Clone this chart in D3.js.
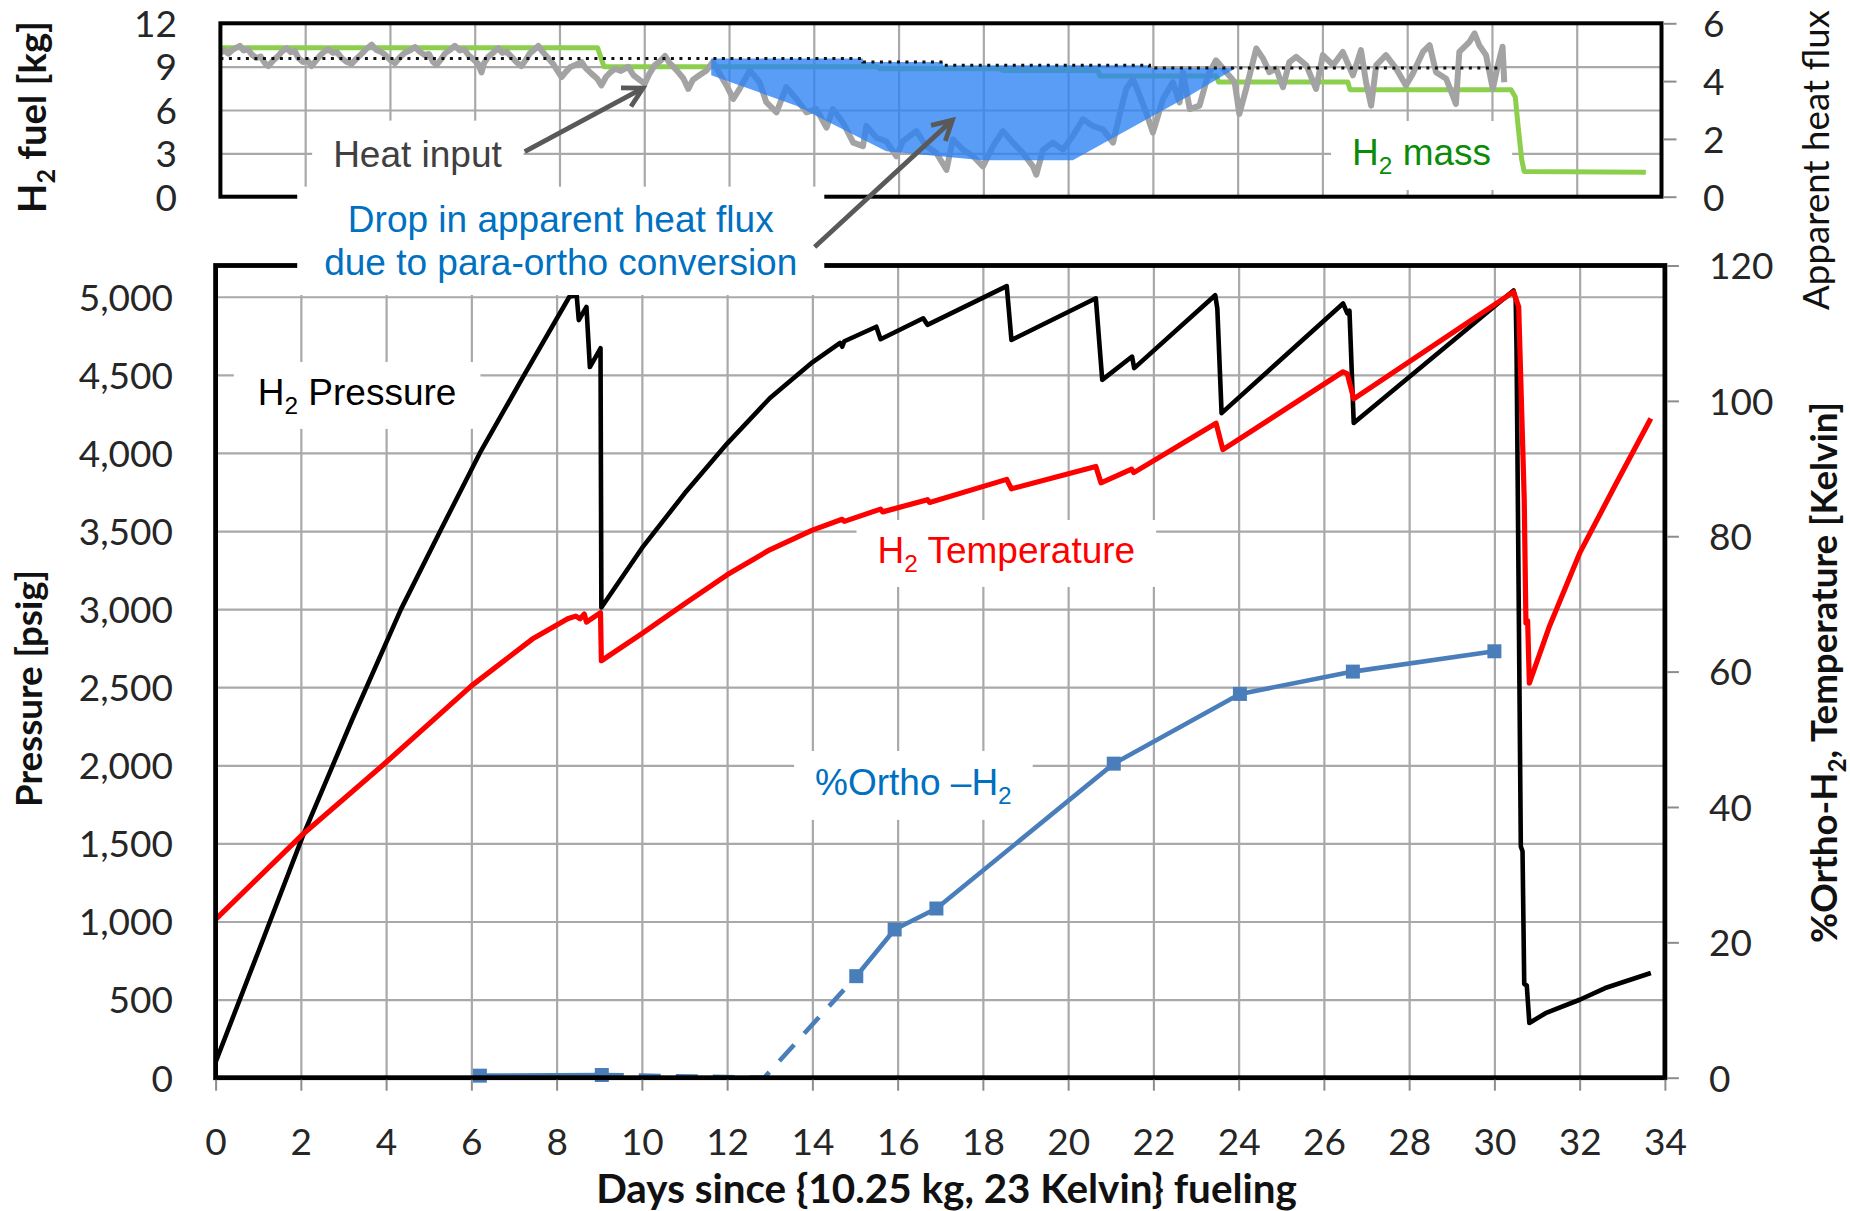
<!DOCTYPE html>
<html><head><meta charset="utf-8">
<script src="https://cdn.jsdelivr.net/npm/d3@7"></script>
<style>
html,body{margin:0;padding:0;background:#fff;}
svg{display:block;}
</style></head>
<body>
<script>
// ================= DATA =================
const dayTicks = [0,2,4,6,8,10,12,14,16,18,20,22,24,26,28,30,32,34];
const pressureTicks = [0,500,1000,1500,2000,2500,3000,3500,4000,4500,5000];
const kelvinTicks = [0,20,40,60,80,100,120];
const fuelTicks = [0,3,6,9,12];
const fluxTicks = [0,2,4,6];

// H2 pressure [psig] (left axis, main panel)
const pressureDays = [0,1,2.05,3.2,4.35,5.27,6.2,7.2,8.3,8.47,8.52,8.7,8.78,9.03,9.05,10,11,12,13,14,14.65,14.7,14.75,15.5,15.6,16.6,16.7,18.56,18.67,20.65,20.8,21.5,21.55,23.45,23.5,23.6,26.45,26.55,26.6,26.7,30.45,30.5,30.52,30.62,30.66,30.7,30.76,30.82,31.2,32.0,32.6,33.67];
const pressurePsig = [100,805,1550,2290,3000,3500,4000,4480,5000,5010,4850,4935,4550,4670,3010,3390,3740,4060,4350,4580,4705,4680,4715,4808,4728,4862,4820,5068,4723,4990,4468,4617,4543,5010,4925,4255,4957,4894,4910,4192,5040,4980,4660,1480,1450,600,590,350,413,499,574,670];

// H2 temperature [K] (right axis, main panel)
const tempDays = [0,2,4,6,7.43,8.26,8.45,8.55,8.65,8.7,9.03,9.05,10,11,12,13,14,14.7,14.75,15.6,15.65,16.7,16.75,18.56,18.67,20.65,20.77,21.49,21.54,23.47,23.63,26.45,26.55,26.7,30.45,30.57,30.7,30.74,30.78,30.82,31.28,32.0,32.84,33.67];
const tempK = [23.4,35.7,46.6,57.9,64.8,67.8,68.2,67.8,68.5,67.3,68.7,61.6,65.6,70.0,74.3,78.0,80.9,82.5,82.2,84.0,83.6,85.4,85.0,88.4,87.0,90.3,87.9,89.9,89.4,96.7,92.8,104.3,104.0,100.3,116.1,113.9,85.4,67.2,67.5,58.3,66.5,77.5,87.6,97.4];

// %Ortho-H2 samples (right axis, main panel)
const orthoDays = [6.2,9.06,15.03,15.93,16.91,21.07,24.03,26.68,30.0];
const orthoPct  = [0.3,0.4,15.0,21.9,25.0,46.4,56.7,60.0,63.0];
// dashed (estimated) part of the ortho curve
const orthoDashDays = [9.06,12.87,15.03];
const orthoDashPct  = [0.4,0.0,15.0];

// H2 mass [kg] (left axis, top panel)
const massDays = [0,8.9,9.05,15.5,15.55,18.4,18.45,20.7,20.75,23.5,23.55,26.6,26.65,30.45,30.55,30.62,30.7,30.76,33.63];
const massKg   = [10.3,10.3,9.0,9.0,8.86,8.86,8.74,8.74,8.35,8.35,7.93,7.93,7.41,7.41,6.9,4.8,2.6,1.75,1.70];

// Apparent heat flux (right axis, top panel)
const heatDays = [0.00,0.10,0.19,0.30,0.46,0.55,0.65,0.74,0.85,0.95,1.05,1.13,1.25,1.37,1.45,1.56,1.66,1.75,1.84,1.95,2.05,2.15,2.25,2.35,2.45,2.55,2.65,2.75,2.86,2.98,3.10,3.20,3.33,3.45,3.57,3.68,3.78,3.88,4.00,4.12,4.22,4.35,4.47,4.59,4.70,4.82,4.92,5.02,5.10,5.20,5.30,5.42,5.53,5.65,5.75,5.85,5.98,6.08,6.16,6.22,6.32,6.45,6.55,6.65,6.75,6.87,6.98,7.10,7.20,7.30,7.40,7.50,7.60,7.73,7.85,7.95,8.05,8.15,8.25,8.36,8.52,8.62,8.76,8.88,8.99,9.10,9.20,9.31,9.45,9.62,9.75,9.88,10.01,10.12,10.25,10.38,10.49,10.60,10.70,10.80,10.92,11.04,11.15,11.30,11.47,11.62,11.78,11.94,12.10,12.25,12.49,12.72,12.88,13.12,13.35,13.59,13.83,14.06,14.30,14.45,14.69,14.93,15.16,15.24,15.48,15.71,15.95,16.10,16.42,16.65,16.89,17.13,17.28,17.52,17.76,17.99,18.23,18.46,18.70,18.93,19.17,19.25,19.41,19.64,19.88,20.11,20.35,20.58,20.82,21.06,21.21,21.37,21.53,21.69,21.84,22.00,22.24,22.47,22.63,22.71,22.87,23.10,23.30,23.49,23.73,23.93,24.04,24.20,24.44,24.60,24.75,24.91,25.07,25.22,25.38,25.62,25.85,26.01,26.25,26.48,26.72,26.91,27.03,27.15,27.27,27.50,27.74,27.97,28.13,28.37,28.53,28.68,28.92,29.15,29.23,29.47,29.59,29.70,29.86,30.02,30.14,30.25,30.29];
const heatFlux = [4.99,5.06,4.95,5.10,5.22,5.06,5.10,4.92,4.80,4.85,4.62,4.52,4.72,4.88,5.02,5.14,5.00,5.05,4.80,4.66,4.72,4.52,4.70,4.88,5.02,5.10,4.98,5.00,4.80,4.66,4.60,4.76,4.94,5.12,5.26,5.08,5.02,4.92,4.74,4.62,4.80,4.98,5.06,5.18,5.02,4.90,4.94,4.66,4.56,4.74,4.96,5.08,5.22,5.06,5.10,4.90,4.74,4.60,4.30,4.62,4.84,5.00,5.14,4.98,5.02,4.84,4.66,4.52,4.72,4.96,5.08,5.22,5.02,4.80,4.60,4.36,4.14,4.32,4.48,4.55,4.66,4.45,4.25,4.10,3.85,4.15,4.30,4.43,4.35,4.49,4.20,4.05,3.91,4.25,4.55,4.70,4.87,4.62,4.48,4.31,4.10,3.73,4.05,4.20,4.37,4.66,4.25,3.85,3.38,3.73,4.37,3.96,3.27,2.92,3.79,3.38,2.92,3.03,2.39,3.03,2.56,1.87,1.75,2.45,2.04,1.92,1.40,1.92,2.27,1.75,1.52,0.93,1.98,1.63,1.40,1.05,1.75,2.27,1.87,1.52,1.05,0.76,1.63,1.87,1.63,2.10,2.68,2.45,2.33,1.87,2.80,3.73,4.08,3.50,2.92,2.22,3.38,3.96,3.26,4.31,3.03,3.15,4.20,4.72,4.31,3.96,2.86,3.73,5.13,4.78,4.31,4.43,3.79,4.66,4.84,4.55,3.73,4.90,4.55,5.01,4.20,5.07,3.96,3.15,4.55,4.90,4.43,3.85,4.25,5.01,5.24,4.31,4.08,3.21,5.01,5.36,5.65,5.24,4.90,3.73,4.55,5.19,3.96];

// Average heat-input level (dotted)
const avgDays = [0,15.16,15.16,17.05,17.05,21.92,21.92,30.25];
const avgFlux = [4.78,4.78,4.66,4.66,4.55,4.55,4.45,4.45];

// Drop in apparent heat flux region (blue area)
const dropTopDays = [11.58,15.16,15.16,17.05,17.05,21.92,21.92,23.93];
const dropTopFlux = [4.78,4.78,4.66,4.66,4.55,4.55,4.45,4.45];
const dropBottomDays = [11.58,13.59,15.71,17.99,20.11,22.87,23.93];
const dropBottomFlux = [4.20,3.15,1.57,1.26,1.26,3.50,4.43];

// ================= LAYOUT =================
const W = 1850, H = 1211;
const M = {left:215.6, right:1664.9, top:265.5, bottom:1077.7};
const T = {left:220.4, right:1661.5, top:23.3, bottom:196.7};

const x   = d3.scaleLinear().domain([0,34]).range([M.left, M.right]);
const yP  = d3.scaleLinear().domain([0,5200]).range([M.bottom, M.top]);
const yK  = d3.scaleLinear().domain([0,120]).range([M.bottom, M.top]);
const xt  = d3.scaleLinear().domain([0,34]).range([T.left, T.right]);
const yKg = d3.scaleLinear().domain([0,12]).range([T.bottom, T.top]);
const yF  = d3.scaleLinear().domain([0,6]).range([T.bottom, T.top]);

const GRID = '#a9a9a9';
const TICKFONT = 'Lato, "Open Sans", sans-serif';
const ANNFONT = '"Liberation Sans", Arial, sans-serif';
const TICKSIZE = 37;
const LABELCOL = '#262626';

const svg = d3.select('body').append('svg').attr('width', W).attr('height', H)
  .style('background', '#fff');
svg.append('rect').attr('width', W).attr('height', H).attr('fill', '#fff');

const zip = (a, b) => a.map((d, i) => [d, b[i]]);

function styleGrid(g) {
  g.select('.domain').remove();
  g.selectAll('.tick line').attr('stroke', GRID).attr('stroke-width', 2.2);
  g.selectAll('.tick text').remove();
}

// ---------------- MAIN PANEL ----------------
const mainG = svg.append('g');
mainG.append('g').attr('transform', `translate(0,${M.top})`)
  .call(d3.axisBottom(x).tickValues(dayTicks.filter(d => d > 0 && d < 34)).tickSize(M.bottom - M.top))
  .call(styleGrid);
mainG.append('g').attr('transform', `translate(${M.left},0)`)
  .call(d3.axisLeft(yP).tickValues(pressureTicks.filter(d => d > 0)).tickSize(-(M.right - M.left)))
  .call(styleGrid);

mainG.append('path').datum(zip(pressureDays, pressurePsig))
  .attr('fill', 'none').attr('stroke', '#000').attr('stroke-width', 4.6).attr('stroke-linejoin', 'round')
  .attr('d', d3.line().x(d => x(d[0])).y(d => yP(d[1])));
mainG.append('path').datum(zip(tempDays, tempK))
  .attr('fill', 'none').attr('stroke', '#ff0000').attr('stroke-width', 5.2).attr('stroke-linejoin', 'round')
  .attr('d', d3.line().x(d => x(d[0])).y(d => yK(d[1])));

const ORTHO = '#4a7ebb';
const orthoPts = zip(orthoDays, orthoPct);
mainG.append('path').datum(orthoPts.slice(0, 2))
  .attr('fill', 'none').attr('stroke', ORTHO).attr('stroke-width', 4.6)
  .attr('d', d3.line().x(d => x(d[0])).y(d => yK(d[1])));
mainG.append('path').datum(zip(orthoDashDays, orthoDashPct))
  .attr('fill', 'none').attr('stroke', ORTHO).attr('stroke-width', 4.6).attr('stroke-dasharray', '22,15')
  .attr('d', d3.line().x(d => x(d[0])).y(d => yK(d[1])));
mainG.append('path').datum(orthoPts.slice(2))
  .attr('fill', 'none').attr('stroke', ORTHO).attr('stroke-width', 4.6).attr('stroke-linejoin', 'round')
  .attr('d', d3.line().x(d => x(d[0])).y(d => yK(d[1])));
mainG.selectAll('rect.mk').data(orthoPts).enter().append('rect').attr('class', 'mk')
  .attr('x', d => x(d[0]) - 7).attr('y', d => yK(d[1]) - 7)
  .attr('width', 14).attr('height', 14).attr('fill', ORTHO);

mainG.append('rect').attr('x', M.left).attr('y', M.top)
  .attr('width', M.right - M.left).attr('height', M.bottom - M.top)
  .attr('fill', 'none').attr('stroke', '#000').attr('stroke-width', 4.8);

const xAx = mainG.append('g').attr('transform', `translate(0,${M.bottom})`)
  .call(d3.axisBottom(x).tickValues(dayTicks).tickSize(13).tickFormat(d3.format('d')));
xAx.select('.domain').remove();
xAx.selectAll('.tick line').attr('stroke', '#8c8c8c').attr('stroke-width', 2).attr('y1', 2);
xAx.selectAll('.tick text').attr('y', 1142 - M.bottom).attr('dy', '0.36em')
  .attr('font-family', TICKFONT).attr('font-size', TICKSIZE).attr('fill', LABELCOL);

const lAx = mainG.append('g').attr('transform', `translate(${M.left},0)`)
  .call(d3.axisLeft(yP).tickValues(pressureTicks).tickSize(0).tickFormat(d3.format(',')));
lAx.select('.domain').remove();
lAx.selectAll('.tick text').attr('x', 173 - M.left).attr('dy', '0.36em')
  .attr('font-family', TICKFONT).attr('font-size', TICKSIZE).attr('fill', LABELCOL);

const rAx = mainG.append('g').attr('transform', `translate(${M.right},0)`)
  .call(d3.axisRight(yK).tickValues(kelvinTicks).tickSize(14).tickFormat(d3.format('d')));
rAx.select('.domain').remove();
rAx.selectAll('.tick line').attr('stroke', '#8c8c8c').attr('stroke-width', 2).attr('x1', 2);
rAx.selectAll('.tick text').attr('x', 1709 - M.right).attr('dy', '0.36em')
  .attr('font-family', TICKFONT).attr('font-size', TICKSIZE).attr('fill', LABELCOL);

// ---------------- TOP PANEL ----------------
const topG = svg.append('g');
topG.append('g').attr('transform', `translate(0,${T.top})`)
  .call(d3.axisBottom(xt).tickValues(dayTicks.filter(d => d > 0 && d < 34)).tickSize(T.bottom - T.top))
  .call(styleGrid);
topG.append('g').attr('transform', `translate(${T.left},0)`)
  .call(d3.axisLeft(yKg).tickValues(fuelTicks.filter(d => d > 0 && d < 12)).tickSize(-(T.right - T.left)))
  .call(styleGrid);

topG.append('path').datum(zip(massDays, massKg))
  .attr('fill', 'none').attr('stroke', '#8ccf4d').attr('stroke-width', 5).attr('stroke-linejoin', 'round')
  .attr('d', d3.line().x(d => xt(d[0])).y(d => yKg(d[1])));
topG.append('path').datum(zip(heatDays, heatFlux))
  .attr('fill', 'none').attr('stroke', '#a3a3a3').attr('stroke-width', 6).attr('stroke-linejoin', 'round')
  .attr('d', d3.line().x(d => xt(d[0])).y(d => yF(d[1])));
const dropPoly = zip(dropTopDays, dropTopFlux).concat(zip(dropBottomDays, dropBottomFlux).reverse());
topG.append('path').datum(dropPoly)
  .attr('fill', '#2a82f5').attr('fill-opacity', 0.78).attr('stroke', 'none')
  .attr('d', d3.line().x(d => xt(d[0])).y(d => yF(d[1])).curve(d3.curveLinearClosed));
topG.append('path').datum(zip(avgDays, avgFlux))
  .attr('fill', 'none').attr('stroke', '#111').attr('stroke-width', 3).attr('stroke-dasharray', '3,5.5')
  .attr('d', d3.line().x(d => xt(d[0])).y(d => yF(d[1])));

topG.append('rect').attr('x', T.left).attr('y', T.top)
  .attr('width', T.right - T.left).attr('height', T.bottom - T.top)
  .attr('fill', 'none').attr('stroke', '#000').attr('stroke-width', 4);

const tlAx = topG.append('g').attr('transform', `translate(${T.left},0)`)
  .call(d3.axisLeft(yKg).tickValues(fuelTicks).tickSize(0).tickFormat(d3.format('d')));
tlAx.select('.domain').remove();
tlAx.selectAll('.tick text').attr('x', 177 - T.left).attr('dy', '0.36em')
  .attr('font-family', TICKFONT).attr('font-size', TICKSIZE).attr('fill', LABELCOL);
const trAx = topG.append('g').attr('transform', `translate(${T.right},0)`)
  .call(d3.axisRight(yF).tickValues(fluxTicks).tickSize(15).tickFormat(d3.format('d')));
trAx.select('.domain').remove();
trAx.selectAll('.tick line').attr('stroke', '#8c8c8c').attr('stroke-width', 2).attr('x1', 2);
trAx.selectAll('.tick text').attr('x', 1703 - T.right).attr('dy', '0.36em')
  .attr('font-family', TICKFONT).attr('font-size', TICKSIZE).attr('fill', LABELCOL);

// ---------------- ANNOTATIONS ----------------
function buildRich(textSel, parts, fs) {
  textSel.selectAll('tspan').remove();
  textSel.attr('font-size', fs);
  let prevSub = false;
  parts.forEach(p => {
    const ts = textSel.append('tspan').text(p.t);
    if (p.sub) { ts.attr('font-size', fs * 0.66).attr('dy', fs * 0.24); prevSub = true; }
    else if (prevSub) { ts.attr('dy', -fs * 0.24); prevSub = false; }
  });
}

function boxedLabel(cx, baselines, lines, color, fs, padX, padY) {
  const g = svg.append('g');
  const bg = g.append('rect').attr('fill', '#fff');
  const texts = lines.map((parts, i) => {
    const t = g.append('text').attr('x', cx).attr('y', baselines[i])
      .attr('text-anchor', 'middle').attr('font-family', ANNFONT).attr('fill', color);
    buildRich(t, parts, fs);
    return t;
  });
  let x0 = Infinity, y0 = Infinity, x1 = -Infinity, y1 = -Infinity;
  texts.forEach(t => {
    const b = t.node().getBBox();
    x0 = Math.min(x0, b.x); y0 = Math.min(y0, b.y);
    x1 = Math.max(x1, b.x + b.width); y1 = Math.max(y1, b.y + b.height);
  });
  bg.attr('x', x0 - padX).attr('y', y0 - padY).attr('width', x1 - x0 + 2 * padX).attr('height', y1 - y0 + 2 * padY);
}

function arrow(x1, y1, x2, y2) {
  const g = svg.append('g').attr('stroke', '#595959').attr('stroke-width', 4.8).attr('fill', 'none');
  g.append('line').attr('x1', x1).attr('y1', y1).attr('x2', x2).attr('y2', y2);
  const a = Math.atan2(y2 - y1, x2 - x1), L = 22, s = 0.5;
  g.append('path').attr('stroke-linejoin', 'miter')
    .attr('d', `M${x2 - L * Math.cos(a - s)},${y2 - L * Math.sin(a - s)} L${x2},${y2} L${x2 - L * Math.cos(a + s)},${y2 - L * Math.sin(a + s)}`);
}

const AF = 37;
boxedLabel(xt(8.03), [yKg(-2.42), yKg(-5.42)],
  [[{t:'Drop in apparent heat flux'}], [{t:'due to para-ortho conversion'}]], '#0070c0', AF, 27, 12);
boxedLabel(xt(4.65), [yKg(2.08)], [[{t:'Heat input'}]], '#404040', AF, 21, 13);
boxedLabel(xt(28.34), [yKg(2.19)], [[{t:'H'}, {t:'2', sub:true}, {t:' mass'}]], '#0a8c0a', AF, 21, 11);
boxedLabel(x(3.32), [yP(4307)], [[{t:'H'}, {t:'2', sub:true}, {t:' Pressure'}]], '#000', AF, 24, 10);
boxedLabel(x(18.55), [yP(3295)], [[{t:'H'}, {t:'2', sub:true}, {t:' Temperature'}]], '#ff0000', AF, 21, 10);
boxedLabel(x(16.37), [yP(1810)], [[{t:'%Ortho –H'}, {t:'2', sub:true}]], '#0070c0', AF, 21, 11);

arrow(xt(7.18), yF(1.56), xt(9.97), yF(3.76));
arrow(xt(14.02), yF(-1.74), xt(17.27), yF(2.65));

// ---------------- AXIS TITLES ----------------
function title(parts, cx, cy, rot, target, weight) {
  const t = svg.append('text').attr('text-anchor', 'middle')
    .attr('font-family', TICKFONT).attr('font-weight', weight).attr('fill', '#111')
    .attr('transform', `translate(${cx},${cy}) rotate(${rot})`);
  buildRich(t, parts, 40);
  const len = t.node().getComputedTextLength();
  buildRich(t, parts, 40 * target / len);
}
title([{t:'Days since {10.25 kg, 23 Kelvin} fueling'}], 946.5, 1203, 0, 701, 'bold');
title([{t:'Pressure [psig]'}], 42, 688.5, -90, 237, 'bold');
title([{t:'H'}, {t:'2', sub:true}, {t:' fuel [kg]'}], 46, 117, -90, 192, 'bold');
title([{t:'Apparent heat flux'}], 1829, 160, -90, 300, 'normal');
title([{t:'%Ortho-H'}, {t:'2', sub:true}, {t:', Temperature [Kelvin]'}], 1837, 672.5, -90, 541, 'bold');
</script>
</body></html>
